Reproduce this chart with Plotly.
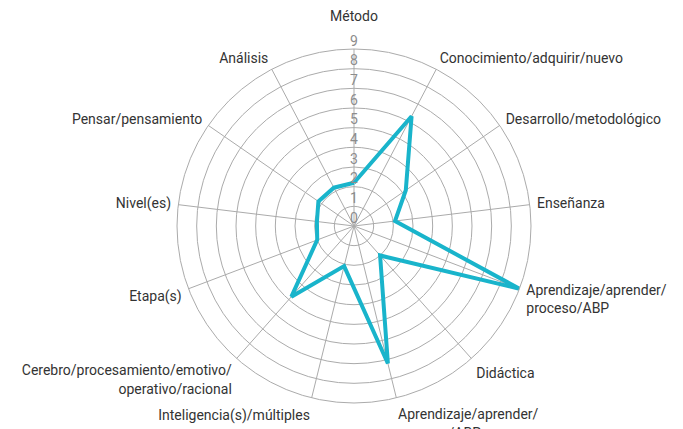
"""Radar chart of category scores"""

import plotly.graph_objects as go

categories = [
    "Método<br> ",
    "Conocimiento/adquirir/nuevo",
    "Desarrollo/metodológico",
    "Enseñanza",
    "Aprendizaje/aprender/<br>proceso/ABP",
    "Didáctica",
    "Aprendizaje/aprender/<br>proceso/ABP",
    "Inteligencia(s)/múltiples",
    "Cerebro/procesamiento/emotivo/<br>operativo/racional",
    "Etapa(s)",
    "Nivel(es)",
    "Pensar/pensamiento",
    "Análisis",
]
values = [2.2, 6.3, 3.2, 2.1, 9.0, 2.0, 7.2, 2.1, 4.8, 2.0, 1.9, 2.2, 2.2]
radial_ticks = [0, 1, 2, 3, 4, 5, 6, 7, 8, 9]

FONT = "Roboto, sans-serif"
LINE_COLOR = "#19b4cb"
GRID_COLOR = "#ababab"

# Duplicated category names would be merged on a category axis,
# so use numeric angles with custom tick text
step = 360 / len(categories)
angles = [i * step for i in range(len(categories))]

fig = go.Figure()
fig.add_trace(go.Scatterpolar(
    r=values + values[:1],
    theta=angles + angles[:1],
    mode="lines",
    line=dict(color=LINE_COLOR, width=4),
    cliponaxis=False,
    hoverinfo="skip",
))
# Radial tick labels centred on the vertical axis
fig.add_trace(go.Scatterpolar(
    r=radial_ticks,
    theta=[0] * len(radial_ticks),
    mode="text",
    text=[str(t) for t in radial_ticks],
    textposition="top center",
    textfont=dict(family=FONT, size=14, color="#8c8c8c"),
    cliponaxis=False,
    hoverinfo="skip",
))

fig.update_layout(
    width=683,
    height=429,
    showlegend=False,
    paper_bgcolor="white",
    margin=dict(l=0, r=0, t=0, b=0),
    font=dict(family=FONT, size=14, color="#333333"),
    polar=dict(
        domain=dict(x=[169 / 683, 523 / 683], y=[1 - 395 / 429, 1 - 41 / 429]),
        bgcolor="white",
        angularaxis=dict(
            rotation=90,
            direction="clockwise",
            thetaunit="degrees",
            tickmode="array",
            tickvals=angles,
            ticktext=categories,
            # invisible ticks push the labels away from the circle
            ticks="outside",
            ticklen=4,
            tickcolor="rgba(0,0,0,0)",
            showline=True,
            linecolor=GRID_COLOR,
            gridcolor=GRID_COLOR,
            gridwidth=1,
        ),
        radialaxis=dict(
            range=[0, 9],
            dtick=1,
            angle=90,
            showticklabels=False,
            ticks="",
            showline=False,
            gridcolor=GRID_COLOR,
            gridwidth=1,
        ),
    ),
)

fig.write_html("out.html")
